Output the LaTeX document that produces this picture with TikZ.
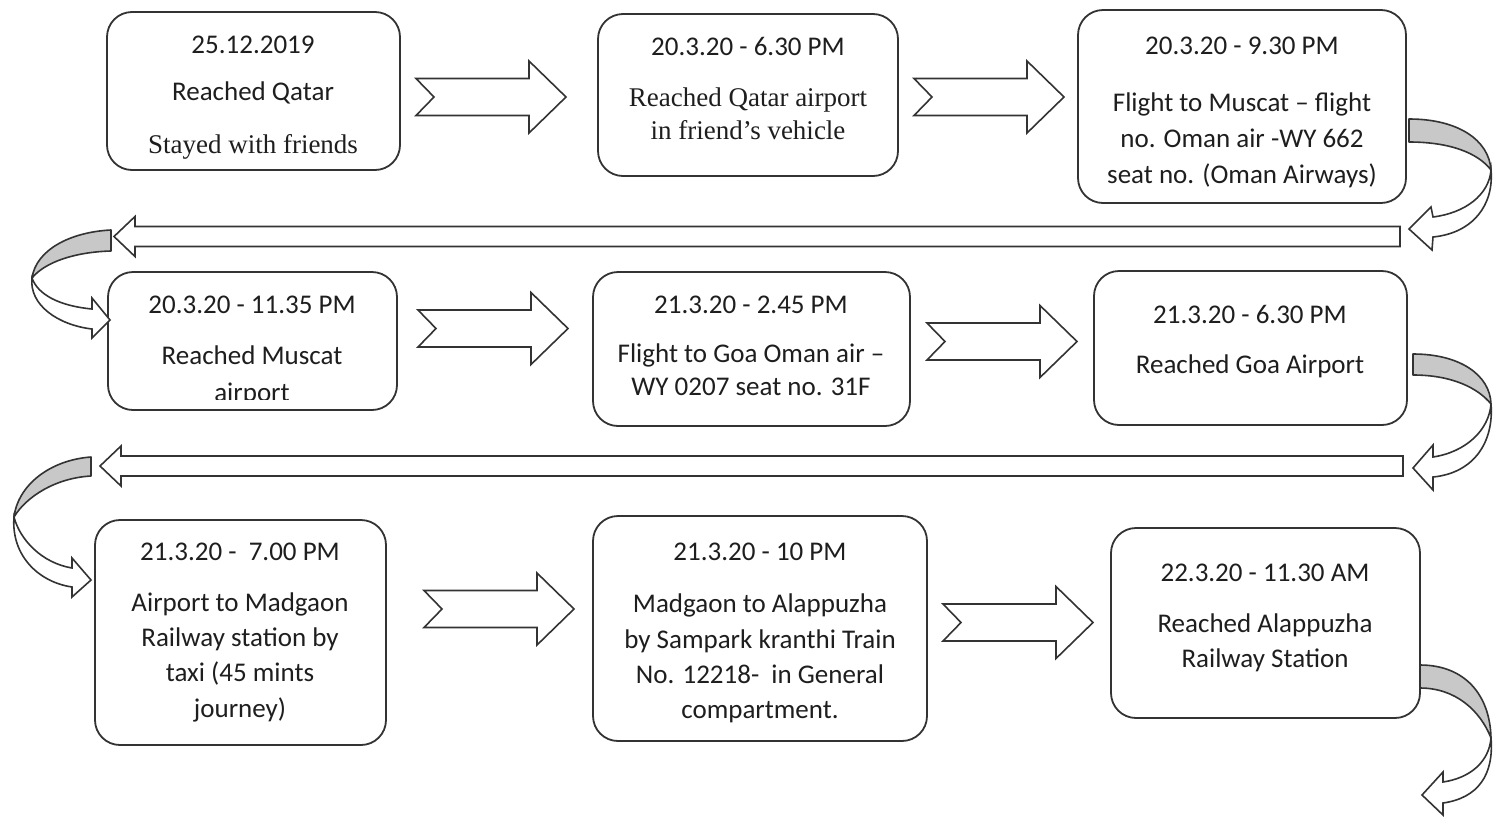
\documentclass[tikz,border=0pt]{standalone}
\usepackage{fontspec}
\setmainfont{Carlito}
\newfontfamily\tms{Liberation Serif}
\definecolor{ln}{HTML}{333333}
\definecolor{txt}{HTML}{1E1E1E}
\definecolor{band}{HTML}{C8C8C8}
\newcommand\blkR[2]{%
\draw[blk] (#1,#2-18.5) -- (#1+113,#2-18.5) -- (#1+113,#2-36) -- (#1+150,#2) -- (#1+113,#2+36) -- (#1+113,#2+18.5) -- (#1,#2+18.5) -- (#1+18,#2) -- cycle;}
\newcommand\blkL[3]{% tip x, tail x, y
\draw[blk] (#2,#3-10) -- (#1+21,#3-10) -- (#1+21,#3-20) -- (#1,#3) -- (#1+21,#3+20) -- (#1+21,#3+10) -- (#2,#3+10) -- cycle;}
\begin{document}
\begin{tikzpicture}[x=1pt,y=-1pt,
  box/.style={draw=ln,line width=1.8pt,rounded corners=25pt,fill=white,inner sep=0pt},
  lbl/.style={anchor=base,text=txt,font=\fontsize{27}{35}\selectfont,inner sep=0pt},
  blk/.style={draw=ln,line width=1.6pt,fill=white,line join=miter},
  bnd/.style={draw=ln,line width=1.6pt,fill=band,line join=round},
  wht/.style={draw=ln,line width=1.6pt,fill=white,line join=miter}]
\useasboundingbox (0,0) rectangle (1493,817);
\fill[white] (0,0) rectangle (1493,817);
% boxes
\node[box,minimum width=293,minimum height=158] (b1) at (253.5,91) {};
\node[box,minimum width=300,minimum height=162] (b2) at (748,95) {};
\node[box,minimum width=328,minimum height=193] (b3) at (1242,106.5) {};
\node[box,minimum width=289,minimum height=138] (b4) at (252.5,341) {};
\node[box,minimum width=317,minimum height=154] (b5) at (751.5,349) {};
\node[box,minimum width=313,minimum height=154] (b6) at (1250.5,348) {};
\node[box,minimum width=291,minimum height=225] (b7) at (240.5,632.5) {};
\node[box,minimum width=334,minimum height=225] (b8) at (760,628.5) {};
\node[box,minimum width=309,minimum height=190] (b9) at (1265.5,623) {};
% texts
\node[lbl] (t1a) at (253,53) {25.12.2019};
\node[lbl] (t1b) at (253,100) {Reached Qatar};
\node[lbl] (t1c) at (253,153) {\tms Stayed with friends};
\node[lbl] (t2a) at (748,55) {20.3.20 - 6.30 PM};
\node[lbl] (t2b) at (748,106) {\tms Reached Qatar airport};
\node[lbl] (t2c) at (748,139) {\tms in friend’s vehicle};
\node[lbl] (t3a) at (1242,54) {20.3.20 - 9.30 PM};
\node[lbl] (t3b) at (1242,111) {Flight to Muscat – flight};
\node[lbl] (t3c) at (1242,147) {no. Oman air -WY 662};
\node[lbl] (t3d) at (1242,183) {seat no. (Oman Airways)};
\node[lbl] (t4a) at (252,313) {20.3.20 - 11.35 PM};
\node[lbl] (t4b) at (252,364) {Reached Muscat};
\begin{scope}
\clip (120,370) rectangle (390,399);
\node[lbl] (t4c) at (252,401) {airport};
\end{scope}
\node[lbl] (t5a) at (751,313) {21.3.20 - 2.45 PM};
\node[lbl] (t5b) at (751,362) {Flight to Goa Oman air –};
\node[lbl] (t5c) at (751,395) {WY 0207 seat no. 31F};
\node[lbl] (t6a) at (1250,323) {21.3.20 - 6.30 PM};
\node[lbl] (t6b) at (1250,373) {Reached Goa Airport};
\node[lbl] (t7a) at (240,560) {21.3.20 -\ \ 7.00 PM};
\node[lbl] (t7b) at (240,611) {Airport to Madgaon};
\node[lbl] (t7c) at (240,646) {Railway station by};
\node[lbl] (t7d) at (240,681) {taxi (45 mints};
\node[lbl] (t7e) at (240,717) {journey)};
\node[lbl] (t8a) at (760,560) {21.3.20 - 10 PM};
\node[lbl] (t8b) at (760,612) {Madgaon to Alappuzha};
\node[lbl] (t8c) at (760,648) {by Sampark kranthi Train};
\node[lbl] (t8d) at (760,683) {No. 12218-\ \ in General};
\node[lbl] (t8e) at (760,718) {compartment.};
\node[lbl] (t9a) at (1265,581) {22.3.20 - 11.30 AM};
\node[lbl] (t9b) at (1265,632) {Reached Alappuzha};
\node[lbl] (t9c) at (1265,667) {Railway Station};
% straight block arrows
\blkR{416}{97}
\blkR{914}{97}
\blkR{418}{328.5}
\blkR{927}{341.5}
\blkR{424}{609}
\blkR{943}{622.5}
\blkL{114}{1400}{236.5}
\blkL{100}{1403}{466}
% right curved arrow 1
\draw[bnd] (1409,119) .. controls (1458,119) and (1489,140) .. (1491,170)
  .. controls (1478,153) and (1450,142) .. (1409,142) -- cycle;
\draw[wht] (1491,170) .. controls (1489,195) and (1465,213) .. (1433,217)
  -- (1431,207) -- (1409,229) -- (1432,250) -- (1433,237)
  .. controls (1473,233) and (1494,205) .. (1491,170) -- cycle;
% right curved arrow 2
\draw[bnd] (1413,354) .. controls (1460,354) and (1490,375) .. (1491,404)
  .. controls (1478,388) and (1452,375) .. (1413,375) -- cycle;
\draw[wht] (1491,404) .. controls (1489,430) and (1466,452) .. (1433,457)
  -- (1433,445) -- (1413,468) -- (1433,490) -- (1433,477)
  .. controls (1474,473) and (1494,442) .. (1491,404) -- cycle;
% right curved arrow 3
\draw[bnd] (1420,665) .. controls (1465,665) and (1490,695) .. (1491,738)
  .. controls (1480,710) and (1455,688) .. (1420,688) -- cycle;
\draw[wht] (1491,738) .. controls (1489,762) and (1470,778) .. (1443,782)
  -- (1443,772) -- (1422,795) -- (1443,815) -- (1443,803)
  .. controls (1478,798) and (1494,775) .. (1491,738) -- cycle;
% left curved arrow 1
\draw[bnd] (111,230) .. controls (70,232) and (36,250) .. (32,278)
  .. controls (45,262) and (75,252) .. (111,251) -- cycle;
\draw[wht] (32,278) .. controls (38,295) and (60,306) .. (92,309)
  -- (92,298) -- (110,320) -- (92,338) -- (92,329)
  .. controls (58,325) and (29,305) .. (32,278) -- cycle;
% left curved arrow 2
\draw[bnd] (91,457) .. controls (50,460) and (18,485) .. (14,517)
  .. controls (26,497) and (55,478) .. (91,476) -- cycle;
\draw[wht] (14,517) .. controls (20,540) and (42,563) .. (72,568)
  -- (72,558) -- (91,580) -- (72,597) -- (72,587)
  .. controls (38,582) and (11,555) .. (14,517) -- cycle;
\end{tikzpicture}
\end{document}
